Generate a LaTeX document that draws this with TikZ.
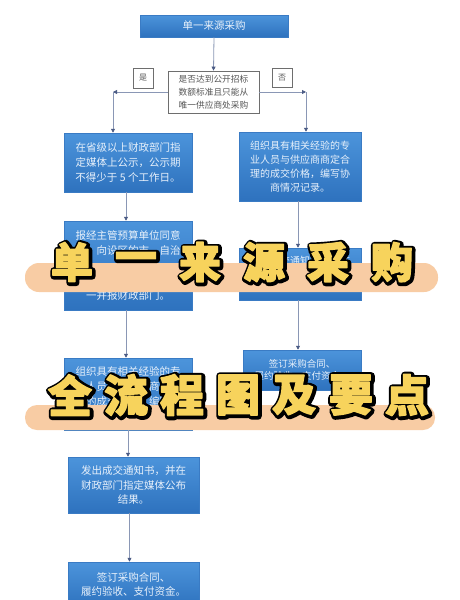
\documentclass[tikz,border=0pt]{standalone}
\usepackage{fontspec}
\newfontfamily\cjk{Noto Sans CJK SC}
\newfontfamily\cjkol[BoldFeatures={FakeBold=16}]{Noto Sans CJK SC}
\newfontfamily\cjkyl[BoldFeatures={FakeBold=3}]{Noto Sans CJK SC}
\usetikzlibrary{arrows.meta,calc}
\definecolor{boxtop}{HTML}{4C94DB}
\definecolor{boxbot}{HTML}{2E72BE}
\definecolor{boxedge}{HTML}{3A7BC4}
\definecolor{boxtext}{HTML}{E8F1FB}
\definecolor{connc}{HTML}{8A97B5}
\definecolor{tipc}{HTML}{4B5B85}
\definecolor{decedge}{HTML}{6E6E6E}
\definecolor{dectext}{HTML}{555555}
\definecolor{barc}{HTML}{F8CCA4}
\definecolor{ylw}{HTML}{F7D35C}
\tikzset{
  bluebox/.style={draw=boxedge, line width=0.5pt, top color=boxtop, bottom color=boxbot,
    text=boxtext, align=center, inner sep=0pt, font=\cjk\fontsize{10.5}{14.8}\selectfont},
  rbox/.style={bluebox, font=\cjk\fontsize{10}{13.8}\selectfont},
  decbox/.style={draw=decedge, line width=0.8pt, fill=white, text=dectext, align=center,
    inner sep=0pt, font=\cjk\fontsize{8.7}{13}\selectfont},
  lblbox/.style={draw=decedge, line width=0.7pt, fill=white, text=dectext, inner sep=0pt,
    font=\cjk\fontsize{8}{8}\selectfont},
  conn/.style={draw=connc, line width=0.8pt, -{Triangle[length=4pt,width=4pt,color=tipc]}},
  olA/.style={font=\cjkol\bfseries\fontsize{42}{42}\selectfont, inner sep=0pt, text=black, line join=round},
  ylA/.style={font=\cjkyl\bfseries\fontsize{42}{42}\selectfont, inner sep=0pt, text=ylw, line join=round},
  olB/.style={font=\cjkol\bfseries\fontsize{44}{44}\selectfont, inner sep=0pt, text=black, line join=round},
  ylB/.style={font=\cjkyl\bfseries\fontsize{44}{44}\selectfont, inner sep=0pt, text=ylw, line join=round},
}
\begin{document}
\begin{tikzpicture}[x=1pt,y=-1pt]
\useasboundingbox (0,0) rectangle (459,600);
\clip (0,0) rectangle (459,600);
\fill[white] (0,0) rectangle (459,600);

% boxes
\node[bluebox, minimum width=148pt, minimum height=22pt] (top) at (214,26) {单一来源采购};
\node[decbox, minimum width=91pt, minimum height=42pt] (dec) at (213.5,92)
  {是否达到公开招标\\数额标准且只能从\\唯一供应商处采购};
\node[lblbox, minimum width=20pt, minimum height=20pt] (yes) at (143,78) {是};
\node[lblbox, minimum width=20pt, minimum height=19pt] (no) at (282,77.5) {否};

\node[bluebox, minimum width=128pt, minimum height=59pt] (lb1) at (128,162.5)
  {在省级以上财政部门指\\定媒体上公示，公示期\\不得少于 5 个工作日。};
\node[bluebox, minimum width=128pt, minimum height=89pt] (lb2) at (128,265.5)
  {报经主管预算单位同意\\后，向设区的市、自治\\\mbox{}\\\mbox{}\\一并报财政部门。};
\node[bluebox, minimum width=128pt, minimum height=72pt] (lb3) at (128,394)
  {组织具有相关经验的专\\业人员与供应商商定合\\理的成交价格，编写协\\商情况记录。};
\node[bluebox, minimum width=131pt, minimum height=56pt] (b4) at (133.5,485)
  {发出成交通知书，并在\\财政部门指定媒体公布\\结果。};
\node[bluebox, minimum width=131pt, minimum height=45pt] (b5) at (133.5,584.5)
  {签订采购合同、\\履约验收、支付资金。};

\node[rbox, minimum width=122pt, minimum height=69pt] (rb1) at (300,166.5)
  {组织具有相关经验的专\\业人员与供应商商定合\\理的成交价格，编写协\\商情况记录。};
\node[rbox, minimum width=122pt, minimum height=52pt] (rb2) at (300,274)
  {发出成交通知书，并在\\财政部门指定媒体公布\\结果。};
\node[rbox, minimum width=118pt, minimum height=40pt, font=\cjk\fontsize{9.5}{12.5}\selectfont] (rb3) at (302,370)
  {签订采购合同、\\履约验收、支付资金。};

% connectors
\coordinate (cl) at (113,92);
\coordinate (cr) at (306,92);
\draw[conn] (top.south) -- (dec.north);
\draw[conn] (dec.west) -- (cl);
\draw[conn] (cl) -- (cl |- lb1.north);
\draw[conn] (dec.east) -- (cr);
\draw[conn] (cr) -- (cr |- rb1.north);
\draw[conn] ([xshift=-2pt]lb1.south) -- ([xshift=-2pt]lb2.north);
\draw[conn] ([xshift=-2pt]rb1.south) -- ([xshift=-2pt]rb2.north);
\draw[conn] ([xshift=-2pt]lb2.south) -- ([xshift=-2pt]lb3.north);
\draw[conn] ([xshift=-2pt]rb2.south) -- ([xshift=-2pt]rb2.south |- rb3.north);
\draw[conn] (lb3.south) -- (lb3.south |- b4.north);
\draw[conn] ([xshift=-4pt]b4.south) -- ([xshift=-4pt]b5.north);

% banner bars
\fill[barc, rounded corners=14pt] (25,263) rectangle (438,292);
\fill[barc, rounded corners=12pt] (25,405) rectangle (435,430);

% banner 1 text (black outline copy under a yellow copy)
\foreach \c/\px [count=\i] in {单/72,一/136,来/200,源/264,采/328,购/392}{
  \node[olA] (oa-\i) at (\px+1,263) {\c};
  \node[ylA] (ta-\i) at (\px,262) {\c};
}
% banner 2 text
\foreach \c/\px [count=\i] in {全/70,流/126,程/182,图/238,及/294,要/351,点/407}{
  \node[olB] (ob-\i) at (\px+1,396) {\c};
  \node[ylB] (tb-\i) at (\px,395) {\c};
}
\end{tikzpicture}
\end{document}
